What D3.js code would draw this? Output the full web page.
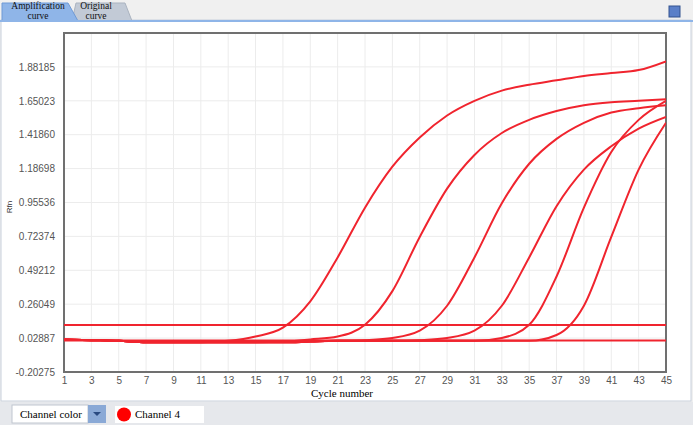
<!DOCTYPE html><html><head><meta charset="utf-8"><script src="https://cdn.jsdelivr.net/npm/d3@7"></script>
<style>body{margin:0;background:#f0f0f0;font-family:"Liberation Sans",Arial,sans-serif}</style></head><body><svg id="c" width="693" height="425"></svg>
<script>
const cycles=d3.range(1,46,2);
const yTicks=[-0.20275,0.02887,0.26049,0.49212,0.72374,0.95536,1.18698,1.41860,1.65023,1.88185];
const xTicks=d3.range(1,46,2);
const curve1=[0.02,0.015,0.01,0.0,0.0,0.0,0.01,0.04,0.10,0.28,0.58,0.92,1.20,1.40,1.55,1.65,1.72,1.76,1.79,1.82,1.84,1.86,1.92];
const curve2=[0.02,0.015,0.01,0.0,0.0,0.0,0.0,0.0,0.005,0.02,0.04,0.12,0.35,0.72,1.05,1.28,1.43,1.52,1.58,1.62,1.64,1.65,1.66];
const curve3=[0.02,0.015,0.01,0.0,0.0,0.0,0.0,0.0,0.0,0.005,0.01,0.015,0.03,0.08,0.25,0.58,0.95,1.22,1.39,1.50,1.57,1.60,1.62];
const curve4=[0.02,0.015,0.01,0.0,0.0,0.0,0.0,0.0,0.0,0.005,0.01,0.01,0.01,0.015,0.03,0.08,0.25,0.58,0.93,1.18,1.34,1.46,1.54];
const curve5=[0.02,0.015,0.01,0.0,0.0,0.0,0.0,0.0,0.0,0.005,0.01,0.01,0.01,0.01,0.01,0.01,0.03,0.12,0.45,0.92,1.30,1.52,1.65];
const curve6=[0.02,0.015,0.01,0.0,0.0,0.0,0.0,0.0,0.0,0.005,0.01,0.01,0.01,0.01,0.01,0.01,0.01,0.01,0.05,0.25,0.72,1.18,1.50];
const flat1=[0.118,0.118];
const flat2=[0.012,0.012];
const series=[curve1,curve2,curve3,curve4,curve5,curve6];
const svg=d3.select("#c");
svg.append("rect").attr("x",1).attr("y",20).attr("width",690).attr("height",381).attr("fill","#fff").attr("stroke","#c8d0dc");
svg.append("rect").attr("x",0).attr("y",402).attr("width",693).attr("height",23).attr("fill","#e6e8ec");
svg.append("path").attr("d","M72,21 L76,3 L125,3 L132,21Z").attr("fill","#c2cad6").attr("stroke","#aab3c0");
svg.append("path").attr("d","M2,21 L2,3 L68,3 L78,21Z").attr("fill","#8fb5e8").attr("stroke","#6f9ad6");
const tf='"Liberation Serif","Times New Roman",serif';
[["Amplification",9,38],["curve",19,38],["Original",9,96],["curve",19,96]].forEach(t=>svg.append("text").attr("x",t[2]).attr("y",t[1]).attr("text-anchor","middle").attr("font-family",tf).attr("font-size",9.5).attr("fill","#111").text(t[0]));
svg.append("rect").attr("x",669).attr("y",6).attr("width",11).attr("height",11).attr("fill","#5a7fc8").attr("stroke","#33538f");
svg.append("rect").attr("x",0).attr("y",20).attr("width",693).attr("height",2).attr("fill","#8fb5e8");
const x=d3.scaleLinear().domain([1,45]).range([64,666]);
const y=d3.scaleLinear().domain([-0.20275,2.11347]).range([372,33]);
const g=svg.append("g");
g.selectAll(".vx").data(xTicks).join("line").attr("x1",d=>x(d)).attr("x2",d=>x(d)).attr("y1",33).attr("y2",372).attr("stroke","#ececec");
g.selectAll(".hy").data(yTicks).join("line").attr("x1",64).attr("x2",666).attr("y1",d=>y(d)).attr("y2",d=>y(d)).attr("stroke","#ececec");
const ax=svg.append("g").attr("transform","translate(0,372)").call(d3.axisBottom(x).tickValues(xTicks).tickSize(0).tickPadding(5));
const ay=svg.append("g").attr("transform","translate(64,0)").call(d3.axisLeft(y).tickValues(yTicks).tickFormat(d=>d.toFixed(5)).tickSize(0).tickPadding(9));
[ax,ay].forEach(a=>{a.select(".domain").remove();a.selectAll("text").attr("fill","#555").attr("font-size",10).attr("font-family",'"Liberation Sans",Arial,sans-serif');});
svg.append("rect").attr("x",64).attr("y",33).attr("width",602).attr("height",339).attr("fill","none").attr("stroke","#707070").attr("stroke-width",2);
svg.append("clipPath").attr("id","cp").append("rect").attr("x",64).attr("y",33).attr("width",602).attr("height",339);
const line=d3.line().x((d,i)=>x(cycles[i])).y(d=>y(d)).curve(d3.curveMonotoneX);
const lg=svg.append("g").attr("clip-path","url(#cp)");
lg.selectAll(".s").data(series).join("path").attr("d",line).attr("fill","none").attr("stroke","#f0242e").attr("stroke-width",2);
[flat1,flat2].forEach(f=>lg.append("line").attr("x1",x(1)).attr("x2",x(45)).attr("y1",y(f[0])).attr("y2",y(f[1])).attr("stroke","#f0242e").attr("stroke-width",2));
svg.append("rect").attr("x",307).attr("y",386).attr("width",70).attr("height",14).attr("fill","#fff");
svg.append("text").attr("x",342).attr("y",397).attr("text-anchor","middle").attr("font-family",tf).attr("font-size",11).text("Cycle number");
svg.append("text").attr("transform","translate(12,207) rotate(-90)").attr("text-anchor","middle").attr("font-size",8).attr("fill","#333").text("Rfn");
svg.append("rect").attr("x",12).attr("y",405).attr("width",76).attr("height",18).attr("fill","#fff").attr("stroke","#c0c6cf");
svg.append("rect").attr("x",88).attr("y",405).attr("width",18).attr("height",18).attr("fill","#8aa9d6");
svg.append("path").attr("d","M93,412 L101,412 L97,416Z").attr("fill","#2a4a80");
svg.append("text").attr("x",20).attr("y",418).attr("font-family",tf).attr("font-size",11).text("Channel color");
svg.append("rect").attr("x",115).attr("y",406).attr("width",89).attr("height",17).attr("fill","#fff");
svg.append("circle").attr("cx",124).attr("cy",414.5).attr("r",7).attr("fill","#f00");
svg.append("text").attr("x",135).attr("y",418).attr("font-family",tf).attr("font-size",11).text("Channel 4");
</script></body></html>
